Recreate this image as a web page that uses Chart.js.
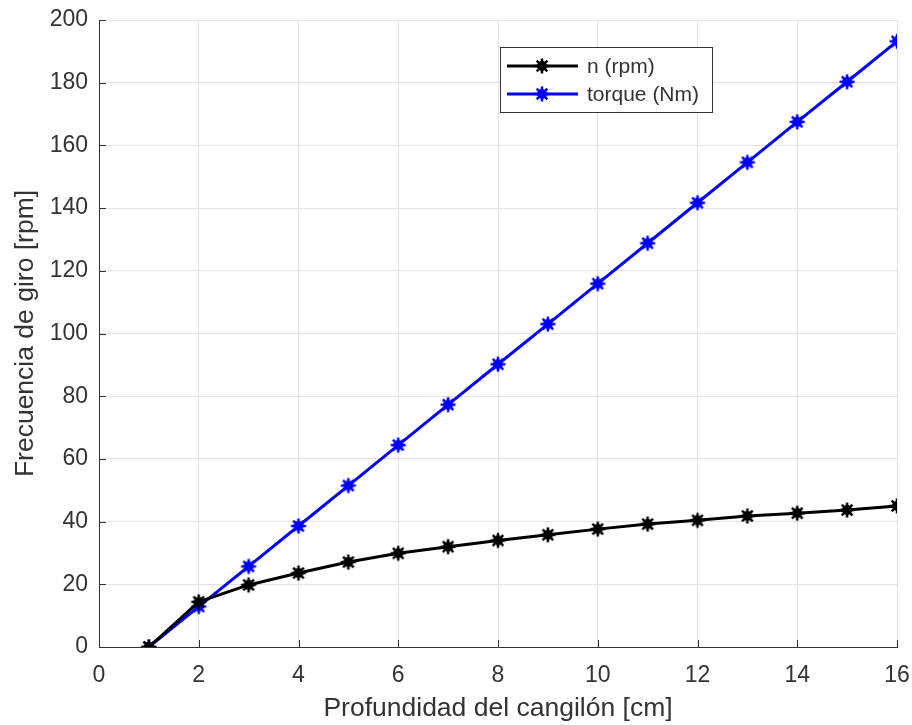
<!DOCTYPE html>
<html>
<head>
<meta charset="utf-8">
<script src="https://cdn.jsdelivr.net/npm/chart.js@4/dist/chart.umd.min.js"></script>
<style>
    html, body { margin: 0; padding: 0; background: #fff; }
    #wrap { width: 912px; height: 725px; position: relative; }
</style>
</head>
<body>
<div id="wrap"><canvas id="chart"></canvas></div>
<script>
// Data
const depths = [1, 2, 3, 4, 5, 6, 7, 8, 9, 10, 11, 12, 13, 14, 15, 16];
const speedRpm = [0, 14.4, 19.8, 23.6, 27.1, 29.9, 32.0, 34.0, 35.8, 37.6, 39.2, 40.4, 41.8, 42.7, 43.7, 45.0];
const torqueNm = [0, 12.9, 25.7, 38.6, 51.5, 64.4, 77.3, 90.2, 103.0, 115.9, 128.8, 141.7, 154.6, 167.5, 180.3, 193.2];
const seriesLabels = ['n (rpm)', 'torque (Nm)'];
const xTicks = [0, 2, 4, 6, 8, 10, 12, 14, 16];
const yTicks = [0, 20, 40, 60, 80, 100, 120, 140, 160, 180, 200];

const axisColor = '#333333';
const font = 'Arial, "Liberation Sans", Helvetica, sans-serif';

function toPoints(values) {
    return depths.map((d, i) => ({ x: d, y: values[i] }));
}

// '*' marker drawn thick, like the blurred MATLAB stars
function starMarker(color) {
    const c = document.createElement('canvas');
    c.width = 18; c.height = 18;
    const g = c.getContext('2d');
    const m = 9, r = 7.5;
    g.strokeStyle = color;
    g.fillStyle = color;
    g.lineWidth = 2.5;
    g.beginPath();
    g.arc(m, m, 5, 0, Math.PI * 2);
    g.fill();
    g.beginPath();
    for (let k = 0; k < 4; k++) {
        const a = k * Math.PI / 4;
        g.moveTo(m - r * Math.cos(a), m - r * Math.sin(a));
        g.lineTo(m + r * Math.cos(a), m + r * Math.sin(a));
    }
    g.stroke();
    return c;
}

// inward tick marks on the left and bottom axes
const tickPlugin = {
    id: 'tickPlugin',
    afterDatasetsDraw(chart) {
        const { ctx, chartArea: a, scales } = chart;
        ctx.save();
        ctx.strokeStyle = axisColor;
        ctx.lineWidth = 1;
        const len = 7;
        ctx.beginPath();
        xTicks.forEach(v => {
            const px = Math.round(scales.x.getPixelForValue(v)) + 0.5;
            ctx.moveTo(px, a.bottom); ctx.lineTo(px, a.bottom - len);
        });
        yTicks.forEach(v => {
            const py = Math.round(scales.y.getPixelForValue(v)) + 0.5;
            ctx.moveTo(a.left, py); ctx.lineTo(a.left + len, py);
        });
        ctx.stroke();
        ctx.restore();
    }
};

// legend box drawn inside the plot area
const insideLegend = {
    id: 'insideLegend',
    afterDraw(chart) {
        const { ctx } = chart;
        const x = 500, y = 47, w = 212, h = 65;
        ctx.save();
        ctx.fillStyle = '#fff';
        ctx.fillRect(x, y, w, h);
        ctx.strokeStyle = axisColor;
        ctx.lineWidth = 1;
        ctx.strokeRect(x + 0.5, y + 0.5, w, h);
        ctx.font = '21px ' + font;
        ctx.textBaseline = 'middle';
        chart.data.datasets.forEach((ds, i) => {
            const ly = y + 19 + i * 28;
            ctx.strokeStyle = ds.borderColor;
            ctx.lineWidth = 3;
            ctx.beginPath();
            ctx.moveTo(x + 7, ly);
            ctx.lineTo(x + 78, ly);
            ctx.stroke();
            const img = ds.pointStyle;
            ctx.drawImage(img, x + 42 - img.width / 2, ly - img.height / 2);
            ctx.fillStyle = axisColor;
            ctx.fillText(ds.label, x + 87, ly + 1);
        });
        ctx.restore();
    }
};

function makeDataset(label, values, color) {
    return {
        label: label,
        data: toPoints(values),
        borderColor: color,
        backgroundColor: color,
        borderWidth: 3,
        pointStyle: starMarker(color),
        pointRadius: 8,
        tension: 0
    };
}

new Chart(document.getElementById('chart'), {
    type: 'line',
    data: {
        datasets: [
            makeDataset(seriesLabels[0], speedRpm, '#000000'),
            makeDataset(seriesLabels[1], torqueNm, '#0000ff')
        ]
    },
    options: {
        responsive: true,
        maintainAspectRatio: false,
        animation: false,
        layout: { padding: { top: 20, right: 15, bottom: 0, left: 0 } },
        plugins: {
            legend: { display: false },
            tooltip: { enabled: false }
        },
        scales: {
            x: {
                type: 'linear',
                min: 0, max: 16,
                afterBuildTicks: scale => { scale.ticks = xTicks.map(v => ({ value: v })); },
                afterFit: scale => { scale.height = 78; scale.paddingLeft = 0; scale.paddingRight = 0; },
                grid: { color: '#e3e3e3', drawTicks: false },
                border: { color: axisColor },
                ticks: { color: axisColor, padding: 15, maxRotation: 0, font: { family: font, size: 23 } },
                title: {
                    display: true,
                    text: 'Profundidad del cangilón [cm]',
                    color: axisColor,
                    padding: { top: 0, bottom: 0 },
                    font: { family: font, size: 26.5 }
                }
            },
            y: {
                type: 'linear',
                min: 0, max: 200,
                afterBuildTicks: scale => { scale.ticks = yTicks.map(v => ({ value: v })); },
                afterFit: scale => { scale.width = 99; scale.paddingTop = 0; scale.paddingBottom = 0; },
                grid: { color: '#e3e3e3', drawTicks: false },
                border: { color: axisColor },
                ticks: { color: axisColor, padding: 11, font: { family: font, size: 23 } },
                title: {
                    display: true,
                    text: 'Frecuencia de giro [rpm]',
                    color: axisColor,
                    padding: { top: 10, bottom: 0 },
                    font: { family: font, size: 26.5 }
                }
            }
        }
    },
    plugins: [tickPlugin, insideLegend]
});
</script>
</body>
</html>
